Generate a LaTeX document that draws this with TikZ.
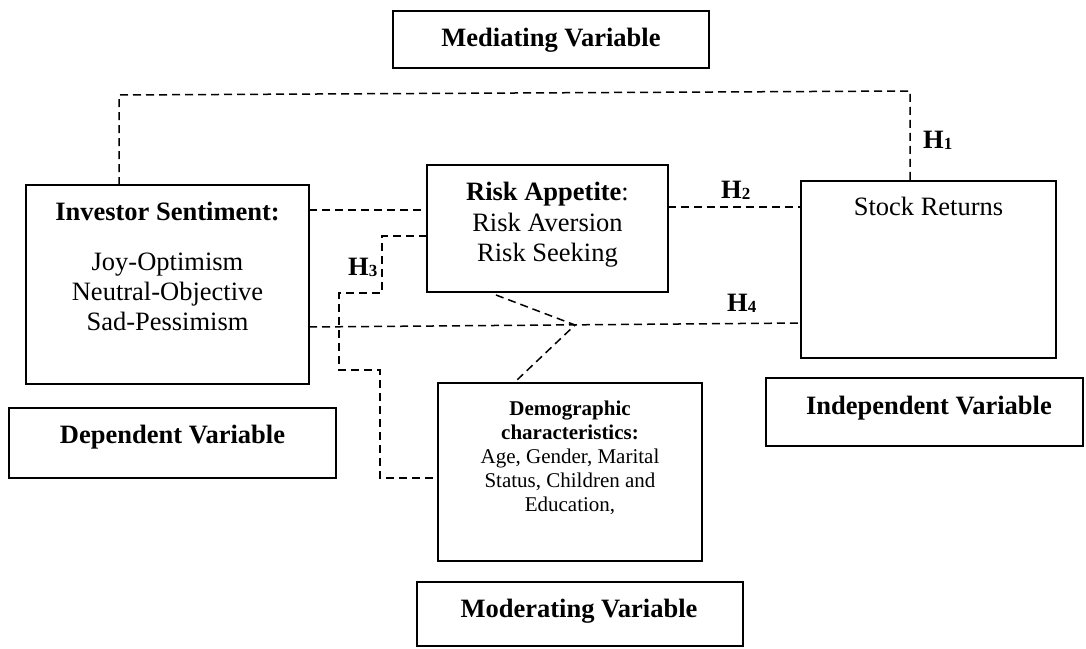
\documentclass[tikz,border=0pt]{standalone}
\usepackage{fontspec}
\setmainfont{Liberation Serif}
\usetikzlibrary{calc}
\begin{document}
\begin{tikzpicture}[x=1pt,y=-1pt,
  box/.style={draw, line width=1.7pt, inner sep=0pt, outer sep=0pt},
  txt/.style={anchor=base, inner sep=0pt, font=\fontsize{26.5}{30}\selectfont},
  stxt/.style={anchor=base, inner sep=0pt, font=\fontsize{21}{24}\selectfont},
  hlab/.style={anchor=base west, inner sep=0pt, font=\fontsize{26.5}{30}\selectfont\bfseries},
  conn/.style={line width=1.5pt, dash pattern=on 8pt off 5pt}
]
\useasboundingbox (0,0) rectangle (1086,648);
\newcommand{\hsub}[1]{\raisebox{-1pt}{\fontsize{17}{17}\selectfont #1}}
% boxes
\node[box, minimum width=316pt, minimum height=57pt] (med) at (551,39.5) {};
\node[box, minimum width=283pt, minimum height=199pt] (inv) at (167.5,284.5) {};
\node[box, minimum width=241pt, minimum height=127pt] (risk) at (547.5,228.5) {};
\node[box, minimum width=255pt, minimum height=177pt] (stock) at (928.5,269.5) {};
\node[box, minimum width=317pt, minimum height=68pt] (indep) at (924.5,412) {};
\node[box, minimum width=327pt, minimum height=70pt] (dep) at (172.5,443) {};
\node[box, minimum width=264pt, minimum height=178pt] (demo) at (570,472) {};
\node[box, minimum width=326pt, minimum height=64pt] (mod) at (580,614) {};
% texts
\node[txt] (tmed) at (551,46) {\textbf{Mediating Variable}};
\node[txt] (tdep) at (172.5,443) {\textbf{Dependent Variable}};
\node[txt] (tind) at (929,414) {\textbf{Independent Variable}};
\node[txt] (tmod) at (579,617) {\textbf{Moderating Variable}};
\node[txt] (inv1) at (167.5,220) {\textbf{Investor Sentiment:}};
\node[txt] (inv2) at (167.5,270) {Joy-Optimism};
\node[txt] (inv3) at (167.5,300) {Neutral-Objective};
\node[txt] (inv4) at (167.5,330) {Sad-Pessimism};
\node[txt] (risk1) at (547.5,200.5) {\textbf{Risk Appetite}:};
\node[txt] (risk2) at (547.5,231) {Risk Aversion};
\node[txt] (risk3) at (547.5,261) {Risk Seeking};
\node[txt] (st1) at (928.5,215) {Stock Returns};
\node[stxt] (dm1) at (570,415) {\textbf{Demographic}};
\node[stxt] (dm2) at (570,439) {\textbf{characteristics:}};
\node[stxt] (dm3) at (570,463) {Age, Gender, Marital};
\node[stxt] (dm4) at (570,487) {Status, Children and};
\node[stxt] (dm5) at (570,511) {Education,};
% hypothesis labels
\node[hlab] (h1) at (923,148) {H\hsub{1}};
\node[hlab] (h2) at (721,198) {H\hsub{2}};
\node[hlab] (h3) at (348,275) {H\hsub{3}};
\node[hlab] (h4) at (727,311) {H\hsub{4}};
% helper coordinates
\coordinate (a1) at (119,95);
\coordinate (a2) at (910,91);
\coordinate (y210) at (0,210);
\coordinate (y207) at (0,207);
\coordinate (y236) at (0,236);
\coordinate (y478) at (0,478);
\coordinate (b1) at (382,236);
\coordinate (b2) at (382,293);
\coordinate (b3) at (339,293);
\coordinate (b4) at (339,370);
\coordinate (b5) at (380,370);
\coordinate (b6) at (380,478);
\coordinate (j) at (575,325);
\coordinate (rb) at (496,295);
\coordinate (dt) at (517,380);
\coordinate (h4l) at (0,327);
\coordinate (h4r) at (0,323);
% connectors
\draw[conn] (a1 |- inv.north) -- (a1) -- (a2) -- (a2 |- stock.north);
\draw[conn] (inv.east |- y210) -- (risk.west |- y210);
\draw[conn] (risk.east |- y207) -- (stock.west |- y207);
\draw[conn] (risk.west |- y236) -- (b1) -- (b2) -- (b3) -- (b4) -- (b5) -- (b6) -- (demo.west |- y478);
\draw[conn] (inv.east |- h4l) -- (stock.west |- h4r);
\draw[conn] (rb) -- (j) -- (dt);
\end{tikzpicture}
\end{document}
